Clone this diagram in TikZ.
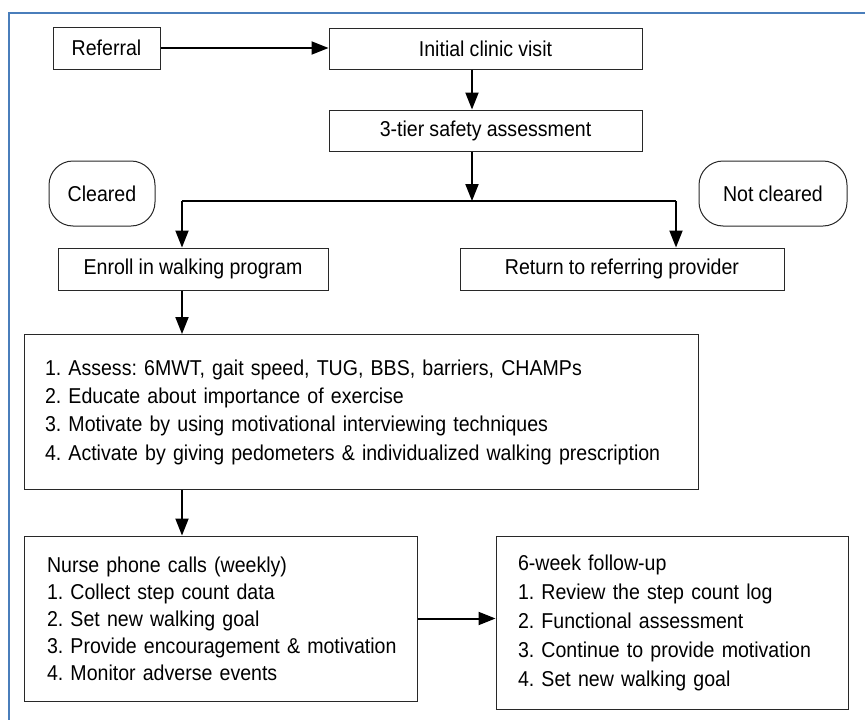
\documentclass[tikz,border=0pt]{standalone}
\usepackage{fontspec}
\setmainfont{Liberation Sans}[FakeStretch=0.91, WordSpace=0.95]
\usetikzlibrary{arrows.meta}
\definecolor{framblue}{RGB}{74,126,187}
\definecolor{boxline}{RGB}{40,40,40}
\frenchspacing
\begin{document}
\begin{tikzpicture}[x=1pt,y=-1pt,
  every node/.style={font=\fontsize{21.5}{28}\selectfont},
  box/.style={draw=boxline, line width=1pt, inner sep=0pt, align=center},
  roundbox/.style={box, rounded corners=24pt},
  listbox/.style={draw=boxline, line width=1pt, inner ysep=0pt, align=left},
  conn/.style={line width=2pt, black},
  arr/.style={conn, -{Triangle[length=17pt,width=13pt]}}]
\useasboundingbox (0,0) rectangle (865,720);
% frame
\draw[framblue, line width=1.5pt] (9,720) -- (9,13) -- (865,13);
% nodes
\node[box, minimum width=107pt, minimum height=42pt] (ref) at (106.5,48) {Referral};
\node[box, minimum width=313pt, minimum height=41pt] (init) at (485.5,48.5) {Initial clinic visit};
\node[box, minimum width=313pt, minimum height=41pt] (tier) at (485.5,130.5) {3-tier safety assessment};
\node[roundbox, minimum width=106pt, minimum height=65pt] (clr) at (102,193.5) {Cleared};
\node[roundbox, minimum width=148pt, minimum height=65pt] (ncl) at (773,193.5) {Not cleared};
\node[box, minimum width=270pt, minimum height=42pt] (enr) at (193,269) {Enroll in walking program};
\node[box, minimum width=324pt, minimum height=42pt] (ret) at (622,269) {Return to referring provider};
\node[listbox, inner xsep=21pt, text width=632pt, minimum height=155pt,
  font=\fontsize{21.5}{28.3}\selectfont] (big) at (361,412)
  {\mbox{1. Assess: 6MWT, gait speed, TUG, BBS, barriers, CHAMPs}\\
   \mbox{2. Educate about importance of exercise}\\
   \mbox{3. Motivate by using motivational interviewing techniques}\\
   \mbox{4. Activate by giving pedometers \& individualized walking prescription}};
\node[listbox, inner xsep=23pt, text width=347pt, minimum height=165pt,
  font=\fontsize{21.5}{27}\selectfont] (nur) at (220.5,618.5)
  {\mbox{Nurse phone calls (weekly)}\\
   \mbox{1. Collect step count data}\\
   \mbox{2. Set new walking goal}\\
   \mbox{3. Provide encouragement \& motivation}\\
   \mbox{4. Monitor adverse events}};
\node[listbox, inner xsep=22pt, text width=308pt, minimum height=173pt,
  font=\fontsize{21.5}{29}\selectfont] (six) at (672,622.5)
  {\mbox{6-week follow-up}\\
   \mbox{1. Review the step count log}\\
   \mbox{2. Functional assessment}\\
   \mbox{3. Continue to provide motivation}\\
   \mbox{4. Set new walking goal}};
% coordinates
\coordinate (cx) at (472,0);
\coordinate (jl) at (182,201);
\coordinate (jm) at (472,201);
\coordinate (jr) at (676,201);
% connectors
\draw[arr] (ref.east) -- (init.west |- ref.east);
\draw[arr] (init.south -| cx) -- (tier.north -| cx);
\draw[arr] (tier.south -| cx) -- (jm);
\draw[conn] (jl) -- (jr);
\draw[arr] (jl) -- (enr.north -| jl);
\draw[arr] (jr) -- (ret.north -| jr);
\draw[arr] (enr.south -| jl) -- (big.north -| jl);
\draw[arr] (big.south -| jl) -- (nur.north -| jl);
\draw[arr] (nur.east) -- (six.west |- nur.east);
\end{tikzpicture}
\end{document}
